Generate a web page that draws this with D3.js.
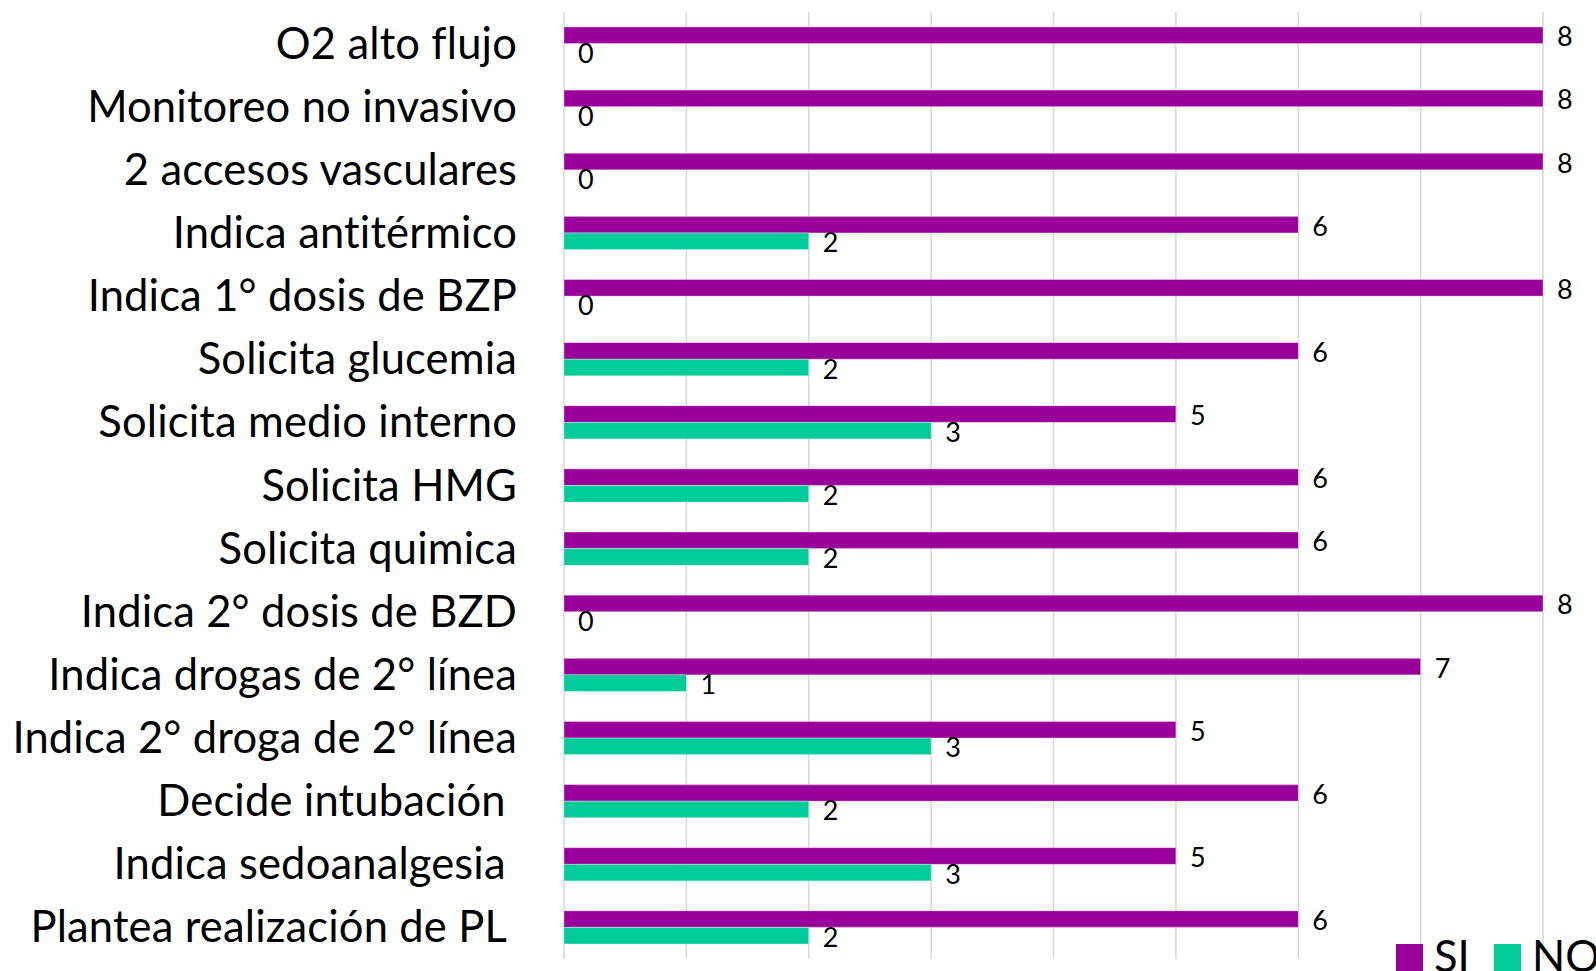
<!DOCTYPE html>
<html>
<head>
<meta charset="utf-8">
<script src="https://cdn.jsdelivr.net/npm/d3@7"></script>
<style>
  html, body { margin: 0; padding: 0; background: #fff; overflow: hidden; }
  svg text { font-family: Lato, "Open Sans", sans-serif; fill: #000; white-space: pre; }
</style>
</head>
<body>
<div id="chart"></div>
<script>
// Categorías (eje vertical) y valores por serie
const categories = [
    "O2 alto flujo",
    "Monitoreo no invasivo",
    "2 accesos vasculares",
    "Indica antitérmico",
    "Indica 1° dosis de BZP",
    "Solicita glucemia",
    "Solicita medio interno",
    "Solicita HMG",
    "Solicita quimica",
    "Indica 2° dosis de BZD",
    "Indica drogas de 2° línea",
    "Indica 2° droga de 2° línea",
    "Decide intubación ",
    "Indica sedoanalgesia ",
    "Plantea realización de PL "
];
const siValues = [8, 8, 8, 6, 8, 6, 5, 6, 6, 8, 7, 5, 6, 5, 6];
const noValues = [0, 0, 0, 2, 0, 2, 3, 2, 2, 0, 1, 3, 2, 3, 2];
const seriesNames = ["SI", "NO"];
const seriesColors = ["#990099", "#00cc99"];
const xTicks = [0, 1, 2, 3, 4, 5, 6, 7, 8];

const width = 1596, height = 971;

const svg = d3.select("#chart").append("svg")
    .attr("width", width)
    .attr("height", height);

// Escalas
const x = d3.scaleLinear().domain([0, 8]).range([564, 1543]);
const y = d3.scaleBand().domain(categories).range([12, 959]).paddingInner(0).paddingOuter(0);
const barH = 16.6;

// Líneas de la cuadrícula vertical
svg.append("g")
    .selectAll("line")
    .data(xTicks)
    .enter().append("line")
    .attr("x1", d => x(d)).attr("x2", d => x(d))
    .attr("y1", 12).attr("y2", 959)
    .attr("stroke", "#d9d9d9")
    .attr("stroke-width", 1.6);

// Filas de datos
const rows = categories.map((c, i) => ({ cat: c, vals: [siValues[i], noValues[i]] }));

const groups = svg.append("g")
    .selectAll("g")
    .data(rows)
    .enter().append("g")
    .attr("transform", d => `translate(0,${y(d.cat) + y.bandwidth() / 2 - barH})`);

groups.selectAll("rect")
    .data(d => d.vals.map((v, s) => ({ v, s })))
    .enter().append("rect")
    .attr("x", x(0))
    .attr("y", d => d.s * barH)
    .attr("width", d => x(d.v) - x(0))
    .attr("height", barH)
    .attr("fill", d => seriesColors[d.s])
    .attr("stroke", "#ffffff")
    .attr("stroke-opacity", 0.45)
    .attr("stroke-width", 0.8);

// Etiquetas de valor
groups.selectAll("text")
    .data(d => d.vals.map((v, s) => ({ v, s })))
    .enter().append("text")
    .attr("x", d => x(d.v) + 14)
    .attr("y", d => d.s * barH + barH / 2 + 11)
    .attr("font-size", 27)
    .text(d => d.v);

// Etiquetas de categoría
svg.append("g")
    .selectAll("text")
    .data(categories)
    .enter().append("text")
    .attr("x", 517)
    .attr("y", d => y(d) + y.bandwidth() / 2 + 15)
    .attr("text-anchor", "end")
    .attr("font-size", 43.5)
    .attr("letter-spacing", 0.15)
    .text(d => d);

// Leyenda
const legend = svg.append("g");
const legendX = [1396, 1494];
seriesNames.forEach((name, i) => {
    legend.append("rect")
        .attr("x", legendX[i]).attr("y", 944)
        .attr("width", 27).attr("height", 27)
        .attr("fill", seriesColors[i]);
    legend.append("text")
        .attr("x", legendX[i] + 38)
        .attr("y", 972)
        .attr("font-size", 43.5)
        .text(name);
});
</script>
</body>
</html>
